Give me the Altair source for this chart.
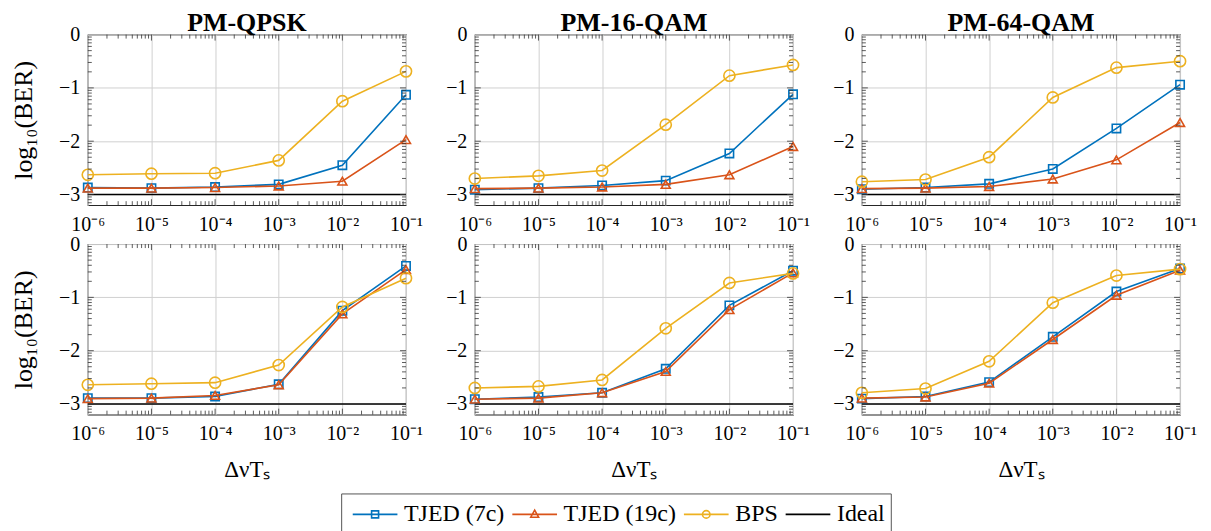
import math
import altair as alt
import pandas as pd

# ---------------- data ----------------
dnu_ts = [1e-6, 1e-5, 1e-4, 1e-3, 1e-2, 1e-1]
series_order = ["TJED (7c)", "TJED (19c)", "BPS", "Ideal"]
panel_titles = ["PM-QPSK", "PM-16-QAM", "PM-64-QAM"]
ideal_log_ber = [-3.0]

# top row
qpsk_top_7c = [-2.87, -2.88, -2.86, -2.81, -2.45, -1.13]
qpsk_top_19c = [-2.88, -2.88, -2.87, -2.84, -2.75, -1.97]
qpsk_top_bps = [-2.63, -2.61, -2.60, -2.36, -1.25, -0.69]
qam16_top_7c = [-2.91, -2.88, -2.83, -2.74, -2.23, -1.12]
qam16_top_19c = [-2.89, -2.88, -2.86, -2.81, -2.63, -2.10]
qam16_top_bps = [-2.70, -2.65, -2.55, -1.69, -0.77, -0.57]
qam64_top_7c = [-2.90, -2.87, -2.80, -2.52, -1.76, -0.94]
qam64_top_19c = [-2.89, -2.88, -2.85, -2.71, -2.35, -1.65]
qam64_top_bps = [-2.76, -2.72, -2.30, -1.18, -0.62, -0.50]
# bottom row
qpsk_bot_7c = [-2.89, -2.89, -2.86, -2.63, -1.25, -0.41]
qpsk_bot_19c = [-2.90, -2.89, -2.84, -2.64, -1.31, -0.48]
qpsk_bot_bps = [-2.64, -2.62, -2.60, -2.27, -1.18, -0.64]
qam16_bot_7c = [-2.91, -2.87, -2.79, -2.34, -1.15, -0.50]
qam16_bot_19c = [-2.91, -2.89, -2.79, -2.39, -1.23, -0.54]
qam16_bot_bps = [-2.70, -2.67, -2.55, -1.58, -0.73, -0.55]
qam64_bot_7c = [-2.90, -2.86, -2.59, -1.74, -0.89, -0.46]
qam64_bot_19c = [-2.89, -2.87, -2.61, -1.79, -0.96, -0.49]
qam64_bot_bps = [-2.79, -2.71, -2.20, -1.10, -0.59, -0.47]

# axis ticks / labels
x_major_ticks = [1e-6, 1e-5, 1e-4, 1e-3, 1e-2, 1e-1]
x_tick_labels = ["10⁻⁶", "10⁻⁵", "10⁻⁴", "10⁻³", "10⁻²", "10⁻¹"]
y_major_ticks = [0, -1, -2, -3]
x_minor_ticks = [m * 10.0 ** k for k in range(-6, -1) for m in range(2, 10)]
y_minor_ticks = [k + math.log10(m) for k in range(-4, 0) for m in range(2, 10)
                 if k + math.log10(m) >= -3.2]

# ---------------- styles ----------------
FONT = "Liberation Serif"
W, H = 319, 171
series_colors = ["#0072BD", "#D95319", "#EDB120", "#000000"]
color_of = dict(zip(series_order, series_colors))
marker_shape = {"TJED (7c)": "square", "TJED (19c)": "triangle-up", "BPS": "circle"}
marker_size = {"TJED (7c)": 70, "TJED (19c)": 80, "BPS": 125}
legend_paths = [
    "M-1.6,0L1.6,0M-0.25,-0.25L0.25,-0.25L0.25,0.25L-0.25,0.25Z",
    "M-1.6,0L1.6,0M0,-0.3L0.28,0.2L-0.28,0.2Z",
    "M-1.6,0L1.6,0M0.27,0A0.27,0.27,0,1,1,-0.27,0A0.27,0.27,0,1,1,0.27,0Z",
    "M-1.6,0L1.6,0",
]

xscale = alt.Scale(type="log", domain=[1e-6, 1e-1], nice=False)
yscale = alt.Scale(domain=[-3.2, 0], nice=False, zero=False)
cscale = alt.Scale(domain=series_order, range=series_colors)

label_expr = "[" + ",".join("'%s'" % s for s in x_tick_labels) + "][round(log(datum.value)/LN10)+6]"

panels_data = [
    (qpsk_top_7c, qpsk_top_19c, qpsk_top_bps),
    (qam16_top_7c, qam16_top_19c, qam16_top_bps),
    (qam64_top_7c, qam64_top_19c, qam64_top_bps),
    (qpsk_bot_7c, qpsk_bot_19c, qpsk_bot_bps),
    (qam16_bot_7c, qam16_bot_19c, qam16_bot_bps),
    (qam64_bot_7c, qam64_bot_19c, qam64_bot_bps),
]


def tick_layers(xaxis, yaxis):
    layers = []
    tick_color = "#333333"
    for vals, ln in ((x_minor_ticks, 4), (x_major_ticks[1:-1], 6)):
        df = pd.DataFrame({"x": vals})
        base = alt.Chart(df).mark_rule(color=tick_color, strokeWidth=0.8)
        xenc = alt.X("x:Q", scale=xscale, axis=xaxis)
        layers.append(base.encode(x=xenc, y=alt.value(0), y2=alt.value(ln)))
        layers.append(base.encode(x=xenc, y=alt.value(H), y2=alt.value(H - ln)))
    for vals, ln in ((y_minor_ticks, 4), (y_major_ticks[1:], 6)):
        df = pd.DataFrame({"y": vals})
        base = alt.Chart(df).mark_rule(color=tick_color, strokeWidth=0.8)
        yenc = alt.Y("y:Q", scale=yscale, axis=yaxis)
        layers.append(base.encode(y=yenc, x=alt.value(0), x2=alt.value(ln)))
        layers.append(base.encode(y=yenc, x=alt.value(W), x2=alt.value(W - ln)))
    return layers


def make_panel(idx):
    row, col = divmod(idx, 3)
    s7, s19, sb = panels_data[idx]
    xaxis = alt.Axis(values=x_major_ticks, labelExpr=label_expr,
                     labelFont=FONT, labelFontSize=20, labelFlush=False,
                     labelOverlap=False, labelPadding=9,
                     title="ΔνTₛ" if row == 1 else None)
    yaxis = alt.Axis(values=y_major_ticks, format="d",
                     labelFont=FONT, labelFontSize=20, labelFlush=False,
                     labelOverlap=False, labelPadding=8,
                     title="log₁₀(BER)" if col == 0 else None)
    layers = []
    layers.append(alt.Chart(pd.DataFrame({"y": ideal_log_ber})).mark_rule(
        color="black", strokeWidth=1.6).encode(
        y=alt.Y("y:Q", scale=yscale, axis=yaxis)))
    for name, vals in zip(series_order[:3], (s7, s19, sb)):
        df = pd.DataFrame({"x": dnu_ts, "y": vals})
        enc = dict(
            x=alt.X("x:Q", scale=xscale, axis=xaxis),
            y=alt.Y("y:Q", scale=yscale, axis=yaxis),
        )
        layers.append(alt.Chart(df).mark_line(
            strokeWidth=1.6, color=color_of[name]).encode(**enc))
        layers.append(alt.Chart(df).mark_point(
            shape=marker_shape[name], size=marker_size[name], filled=False,
            strokeWidth=1.6, opacity=1, color=color_of[name]).encode(**enc))
    layers += tick_layers(xaxis, yaxis)
    if idx == 0:
        leg_df = pd.DataFrame({"series": series_order})
        legend = alt.Legend(title=None, orient="none", direction="horizontal",
                            legendX=254, legendY=460)
        layers.append(alt.Chart(leg_df).mark_point(
            filled=False, opacity=0).encode(
            color=alt.Color("series:N", scale=cscale, legend=legend),
            shape=alt.Shape("series:N",
                            scale=alt.Scale(domain=series_order, range=legend_paths),
                            legend=legend)))
    ch = alt.layer(*layers).properties(width=W, height=H)
    if row == 0:
        ch = ch.properties(title=alt.TitleParams(panel_titles[col], dy=15))
    return ch


chart = alt.concat(*[make_panel(i) for i in range(6)], columns=3,
                   spacing={"row": 39, "column": 69}, bounds="flush").properties(
    padding={"left": 2, "top": 0, "right": 5, "bottom": 0},
    background="white",
).configure_view(stroke="#262626", strokeWidth=1.1).configure_axis(
    grid=True, gridColor="#d0d0d0", gridWidth=1, domain=False, ticks=False,
    labelFont=FONT, labelFontSize=20, labelColor="black",
    titleFont=FONT, titleFontSize=23, titleFontWeight="normal", titleColor="black",
).configure_axisX(titlePadding=15).configure_axisY(titlePadding=22, titleFontSize=26).configure_title(
    font=FONT, fontSize=26, fontWeight="bold", color="black", offset=0,
).configure_legend(
    labelFont=FONT, labelFontSize=24, labelColor="black",
    symbolSize=784, symbolStrokeWidth=1.6, symbolOpacity=1,
    labelOffset=14, columnPadding=2, padding=6, symbolOffset=13,
    strokeColor="#555555", fillColor="white",
)

chart.save("out.html", embed_options={"renderer": "svg", "actions": False})
